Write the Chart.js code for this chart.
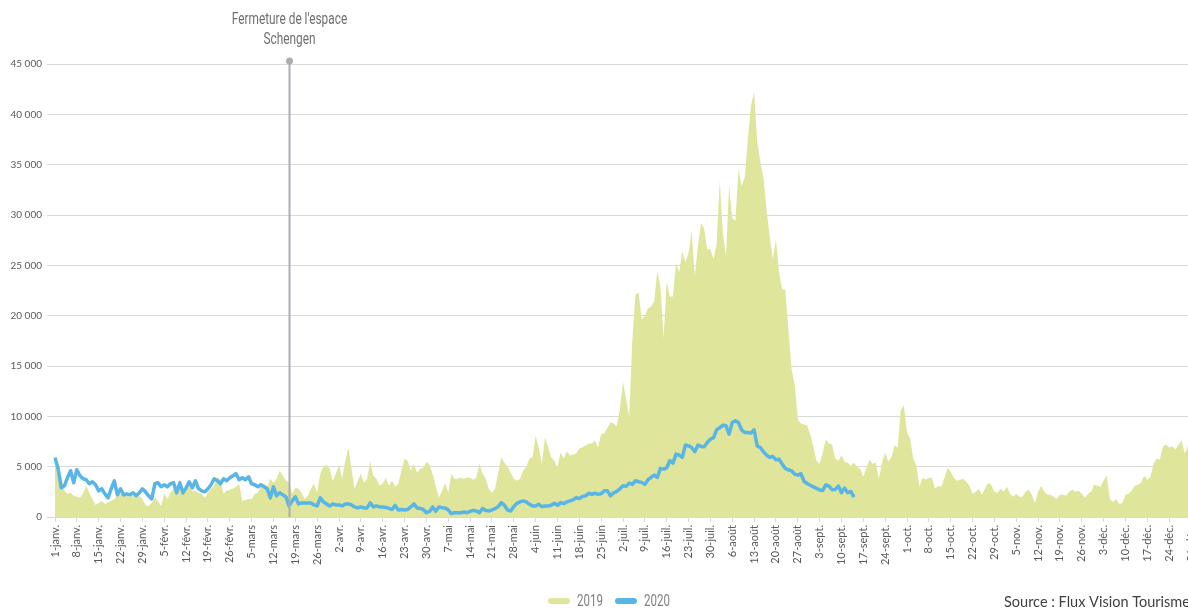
<!DOCTYPE html>
<html lang="fr">
<head>
<meta charset="utf-8">
<title>Fréquentation 2019 / 2020</title>
<script src="https://cdn.jsdelivr.net/npm/chart.js@4.4.1/dist/chart.umd.min.js"></script>
<style>
  html, body { margin: 0; padding: 0; background: #fff; }
  #cadre { width: 1188px; height: 608px; overflow: hidden; position: relative; }
</style>
</head>
<body>
<div id="cadre">
  <canvas id="graphFrequentation" width="1230" height="608"></canvas>
</div>
<script>
// =========================================================
// DONNÉES
// =========================================================

// Mois de l'axe (année 2019, 365 jours)
const MOIS = ['janv.', 'févr.', 'mars', 'avr.', 'mai', 'juin', 'juil.', 'août', 'sept.', 'oct.', 'nov.', 'déc.'];
const JOURS_PAR_MOIS = [31, 28, 31, 30, 31, 30, 31, 31, 30, 31, 30, 31];

// Libellés des jours : "1-janv.", "2-janv." ...
const JOURS = [];
MOIS.forEach((m, i) => {
    for (let j = 1; j <= JOURS_PAR_MOIS[i]; j++) JOURS.push(`${j}-${m}`);
});

// Graduations de l'axe vertical
const GRADUATIONS_Y = [0, 5000, 10000, 15000, 20000, 25000, 30000, 35000, 40000, 45000];

// Nombre de visiteurs par jour - 2019 (année complète)
const VALEURS_2019 = [
    // janv.
    5600, 5300, 4000, 2600, 2300, 2400, 2100, 2000, 1900, 2300,
    3100, 2400, 1800, 1200, 1400, 1600, 1300, 1500, 1600, 1800,
    2100, 2300, 2200, 2100, 2000, 2100, 1900, 2100, 1800, 1200, 1100,
    // févr.
    1400, 1900, 1600, 1100, 2300, 1800, 2400, 2800, 2400, 3800,
    2400, 2800, 3200, 2600, 2600, 2400, 2300, 1900, 2400, 2800,
    3100, 4000, 3700, 2300, 2600, 2700, 2800, 3000,
    // mars
    3300, 1600, 1700, 1800, 1800, 2300, 2400, 3100, 3300, 3000,
    3800, 3400, 3800, 4600, 4100, 3600, 3400, 2300, 2900, 2800,
    2400, 1800, 2100, 2800, 3300, 2400, 4300, 5000, 5200, 4800, 3600,
    // avr.
    4300, 5200, 3800, 5600, 6900, 4800, 2800, 3600, 4300, 3400,
    3800, 5600, 4100, 3800, 3100, 3300, 3900, 3100, 3600, 3000,
    3300, 4600, 5800, 5600, 4600, 5300, 4400, 4800, 4900, 5500,
    // mai
    5200, 4300, 3100, 1900, 2600, 3400, 2400, 4300, 3800, 3800,
    3900, 3800, 3900, 3900, 3700, 3900, 5300, 4300, 3800, 2800,
    2400, 2800, 4400, 5900, 5400, 5000, 4400, 3800, 3600, 3800, 4600,
    // juin
    5000, 5800, 5900, 8100, 6900, 5300, 7900, 6900, 5900, 5600,
    4900, 6400, 5800, 6500, 6100, 6200, 6300, 6800, 6900, 7100,
    7300, 7300, 7600, 6900, 8250, 8300, 8850, 9400, 9300, 9000,
    // juil.
    10700, 13400, 11700, 10000, 17600, 22100, 22300, 19600, 20000, 20700,
    20900, 21400, 24400, 22900, 17700, 23400, 21900, 21900, 25200, 24300,
    26400, 25300, 26200, 28400, 23900, 26900, 29200, 28600, 26600, 26600, 25600,
    // août
    27100, 33400, 28200, 25900, 32900, 29700, 29400, 34500, 32900, 33700,
    37500, 40800, 42300, 37300, 35300, 33700, 30500, 27900, 25600, 27600,
    24300, 22600, 22600, 18600, 14700, 13200, 9700, 9300, 9200, 9100, 8200,
    // sept.
    7000, 5600, 5300, 6400, 7700, 7300, 7200, 5800, 5600, 6100,
    5500, 5400, 5100, 5400, 5000, 4800, 4000, 4900, 5700, 5300,
    5400, 3800, 5400, 6400, 5500, 5900, 7100, 6900, 10600, 11100,
    // oct.
    8400, 7800, 5800, 5100, 3000, 3900, 3700, 3900, 3900, 2800,
    3100, 3000, 3900, 4900, 4500, 3900, 3600, 3700, 3800, 3500,
    3100, 2300, 2500, 2800, 2200, 2800, 3400, 3200, 2500, 2400, 2800,
    // nov.
    2500, 3000, 2300, 2000, 2300, 2000, 2000, 2500, 2700, 2200,
    1400, 2500, 3100, 2500, 2200, 2200, 2000, 1800, 2200, 2200,
    2100, 2500, 2700, 2500, 2600, 2300, 1900, 2300, 2500, 3200,
    // déc.
    3100, 3000, 3600, 4100, 1800, 1500, 1800, 1300, 1400, 2200,
    2300, 2600, 3100, 3200, 3400, 4100, 3700, 4000, 5300, 5800,
    5700, 7000, 7200, 6900, 7000, 6700, 7200, 7600, 6300, 7000, 6600
];

// Nombre de visiteurs par jour - 2020 (jusqu'à mi-septembre)
const VALEURS_2020 = [
    // janv.
    5900, 4800, 2900, 3100, 3900, 4600, 3400, 4700, 4100, 3800,
    3700, 3300, 3500, 3200, 2600, 2800, 2300, 1900, 2800, 3600,
    2200, 2800, 2200, 2300, 2200, 2400, 2100, 2400, 2800, 2500, 2100,
    // févr.
    1800, 3300, 3400, 3000, 3200, 3000, 3300, 3400, 2400, 3400,
    2400, 2900, 3500, 2900, 3600, 2800, 2600, 2500, 2800, 3200,
    3800, 3600, 3300, 3800, 3600, 3900, 4100, 4300,
    // mars
    3700, 3900, 3700, 4000, 3300, 3200, 3000, 3200, 3000, 2800,
    1900, 3000, 2100, 2400, 2200, 2000, 1100, 1600, 2000, 1300,
    1400, 1400, 1400, 1400, 1200, 1100, 1900, 1500, 1300, 1100, 1300,
    // avr.
    1200, 1200, 1100, 1300, 1300, 1200, 1000, 900, 1000, 900,
    900, 1400, 1000, 1100, 1000, 1000, 950, 850, 750, 1150,
    700, 750, 700, 750, 1000, 1300, 900, 850, 750, 430,
    // mai
    550, 1000, 560, 1000, 930, 900, 700, 330, 430, 430,
    430, 500, 430, 560, 660, 600, 430, 830, 660, 600,
    700, 830, 1030, 1430, 1160, 700, 600, 1030, 1360, 1500, 1600,
    // juin
    1500, 1260, 1100, 1100, 1260, 1030, 1100, 1100, 1160, 1360,
    1160, 1430, 1330, 1500, 1600, 1700, 1930, 1830, 2030, 2100,
    2360, 2260, 2360, 2250, 2300, 2600, 2600, 2100, 2400, 2550,
    // juil.
    2800, 3100, 3040, 3370, 3240, 3600, 3500, 3440, 3240, 3700,
    3930, 4160, 3930, 4830, 4760, 4890, 5590, 5350, 6250, 6150,
    5920, 7140, 7070, 6910, 6480, 7140, 7010, 6970, 7400, 7730, 7870,
    // août
    8660, 8860, 9120, 9060, 8230, 9390, 9550, 9390, 8660, 8390,
    8390, 8330, 8660, 7070, 6910, 6480, 6150, 5920, 6020, 5680,
    5750, 5250, 4830, 4690, 4590, 4260, 4160, 4300, 3550, 3330, 3150,
    // sept.
    3000, 2850, 2680, 2640, 3200, 3070, 2710, 2740, 3070, 2410,
    2870, 2410, 2540, 1980
];

const SERIES = ['2019', '2020'];

// Événement annoté : fermeture de l'espace Schengen
const JOUR_FERMETURE = '17-mars';
const TEXTE_FERMETURE = ["Fermeture de l'espace", 'Schengen'];
const SOURCE = 'Source : Flux Vision Tourisme';

// =========================================================
// STYLE
// =========================================================

const COULEUR_2019 = '#dfe59b';
const COULEUR_2020 = '#58b5e6';
const COULEUR_GRILLE = '#d9d9d9';
const COULEUR_TEXTE = '#595959';
const POLICE = "Lato, 'Open Sans', sans-serif";
const POLICE_ETROITE = "Roboto, 'Liberation Sans', sans-serif";
const SERRAGE = 0.74;   // compression horizontale pour imiter une police condensée

// Formatage "45 000"
function formatMilliers(v) {
    return String(v).replace(/\B(?=(\d{3})+(?!\d))/g, ' ');
}

// Texte condensé (police étroite non disponible)
function texteEtroit(ctx, texte, x, y, align, serrage) {
    ctx.save();
    ctx.translate(x, y);
    ctx.scale(serrage, 1);
    ctx.textAlign = align;
    ctx.fillText(texte, 0, 0);
    ctx.restore();
}

// Ligne verticale de l'événement, légende et mention de source
const pluginAnnotations = {
    id: 'annotations',
    afterDatasetsDraw(chart) {
        const { ctx, chartArea, scales } = chart;
        const x = Math.round(scales.x.getPixelForValue(JOURS.indexOf(JOUR_FERMETURE))) + 0.5;
        const yHaut = chartArea.top - 3;

        ctx.save();
        ctx.strokeStyle = '#a9aeb3';
        ctx.lineWidth = 2;
        ctx.beginPath();
        ctx.moveTo(x, yHaut);
        ctx.lineTo(x, chartArea.bottom);
        ctx.stroke();

        ctx.fillStyle = '#a9aeb3';
        ctx.beginPath();
        ctx.arc(x, yHaut, 3.5, 0, Math.PI * 2);
        ctx.fill();

        ctx.fillStyle = '#6f6f6f';
        ctx.font = `16px ${POLICE_ETROITE}`;
        ctx.textBaseline = 'middle';
        texteEtroit(ctx, TEXTE_FERMETURE[0], x, 20, 'center', SERRAGE);
        texteEtroit(ctx, TEXTE_FERMETURE[1], x, 40, 'center', SERRAGE);

        // Légende (trait arrondi + année)
        const legende = [
            { texte: SERIES[0], couleur: COULEUR_2019, x: 551 },
            { texte: SERIES[1], couleur: COULEUR_2020, x: 618 }
        ];
        ctx.lineWidth = 6;
        ctx.lineCap = 'round';
        ctx.font = `17px ${POLICE_ETROITE}`;
        legende.forEach(item => {
            ctx.strokeStyle = item.couleur;
            ctx.beginPath();
            ctx.moveTo(item.x, 601);
            ctx.lineTo(item.x + 16, 601);
            ctx.stroke();
            ctx.fillStyle = '#7f7f7f';
            texteEtroit(ctx, item.texte, item.x + 26, 602, 'left', 0.68);
        });

        // Mention de source, en bas à droite (coupée par le bord, comme l'original)
        ctx.fillStyle = '#404040';
        ctx.font = `14.5px ${POLICE}`;
        ctx.textAlign = 'left';
        ctx.fillText(SOURCE, 1004, 602);
        ctx.restore();
    }
};

// =========================================================
// GRAPHIQUE
// =========================================================

const ctx = document.getElementById('graphFrequentation').getContext('2d');

new Chart(ctx, {
    type: 'line',
    data: {
        labels: JOURS,
        datasets: [
            {
                label: SERIES[0],
                data: VALEURS_2019,
                backgroundColor: COULEUR_2019,
                borderColor: COULEUR_2019,
                borderWidth: 0,
                fill: 'origin',
                pointRadius: 0,
                tension: 0,
                order: 2
            },
            {
                label: SERIES[1],
                data: VALEURS_2020,
                borderColor: COULEUR_2020,
                backgroundColor: COULEUR_2020,
                borderWidth: 3.5,
                borderJoinStyle: 'round',
                fill: false,
                pointRadius: 0,
                tension: 0,
                order: 1
            }
        ]
    },
    options: {
        responsive: false,
        animation: false,
        layout: {
            padding: { top: 64, right: 39, left: 0, bottom: 30 }
        },
        scales: {
            x: {
                offset: false,
                border: { display: true, color: COULEUR_GRILLE },
                grid: {
                    drawOnChartArea: false,
                    drawTicks: true,
                    tickLength: 5,
                    color: COULEUR_GRILLE
                },
                ticks: {
                    autoSkip: false,
                    minRotation: 90,
                    maxRotation: 90,
                    padding: 3,
                    color: COULEUR_TEXTE,
                    font: { family: POLICE, size: 11 },
                    callback: (v, i) => (i % 7 === 0 ? JOURS[i] : null)
                },
                afterFit: (scale) => { scale.height = 61; }
            },
            y: {
                min: GRADUATIONS_Y[0],
                max: GRADUATIONS_Y[GRADUATIONS_Y.length - 1],
                border: { display: false },
                grid: { color: COULEUR_GRILLE, tickLength: 8 },
                ticks: {
                    stepSize: GRADUATIONS_Y[1] - GRADUATIONS_Y[0],
                    padding: 5,
                    color: COULEUR_TEXTE,
                    font: { family: POLICE, size: 10 },
                    callback: (v) => formatMilliers(v)
                },
                afterFit: (scale) => { scale.width = 55; }
            }
        },
        plugins: {
            legend: { display: false },
            tooltip: { enabled: false }
        }
    },
    plugins: [pluginAnnotations]
});
</script>
</body>
</html>
